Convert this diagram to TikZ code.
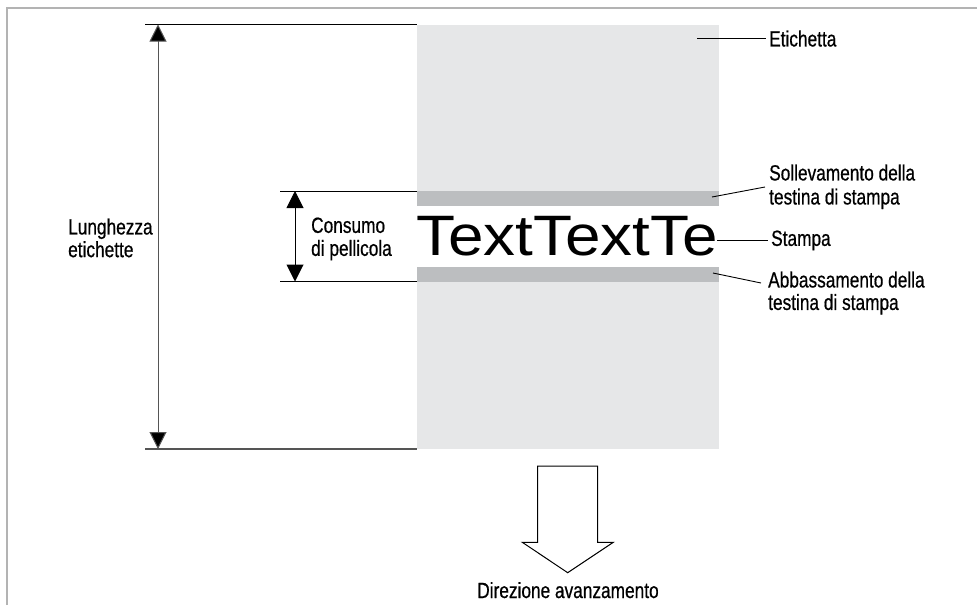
\documentclass[tikz,border=0pt]{standalone}
\usepackage{fontspec}
\setmainfont{Liberation Sans}
\newfontfamily\condf[FakeStretch=0.785,FakeBold=0.6]{Liberation Sans}
\newfontfamily\bigf[FakeStretch=1.12]{Liberation Sans}
\usetikzlibrary{arrows.meta}
\definecolor{labelgray}{HTML}{E6E7E8}
\definecolor{stripgray}{HTML}{BCBEC0}
\definecolor{framegray}{HTML}{B3B3B3}
\definecolor{dimgray}{HTML}{555555}
\tikzset{
  lbl/.style={font=\condf\fontsize{22}{24}\selectfont, inner sep=0pt, align=left, anchor=north west},
  leader/.style={draw=black, line width=0.9pt},
  extline/.style={draw=dimgray, line width=1.3pt},
  dimarrow/.style={draw=dimgray, line width=1pt, {Triangle[width=17pt,length=17pt,fill=black]}-{Triangle[width=17pt,length=17pt,fill=black]}},
}
\begin{document}
\begin{tikzpicture}[x=1pt,y=-1pt]
\useasboundingbox (0,0) rectangle (977,605);
% frame
\draw[framegray, line width=2pt] (7,605) -- (7,8) -- (977,8);
% label strip
\fill[labelgray] (416.5,24.5) rectangle (719,448.5);
\fill[white] (416.5,206) rectangle (719,266.5);
\fill[stripgray] (416.5,191) rectangle (719,206);
\fill[stripgray] (416.5,266.5) rectangle (719,281.5);
\node[font=\bigf\fontsize{57}{60}\selectfont, inner sep=0pt, anchor=base west] (print) at (416,255.5) {TextTextTe};
% extension lines
\coordinate (lt1) at (145,24.5); \coordinate (lt2) at (416.5,24.5);
\coordinate (lb1) at (145,449); \coordinate (lb2) at (416.5,449);
\draw[black, line width=1.3pt] (lt1) -- (lt2);
\draw[extline] (lb1) -- (lb2);
\coordinate (ct1) at (280,191); \coordinate (ct2) at (416.5,191);
\coordinate (cb1) at (280,281.5); \coordinate (cb2) at (416.5,281.5);
\draw[black, line width=1pt] (ct1) -- (ct2);
\draw[black, line width=1pt] (cb1) -- (cb2);
% dimension arrows
\coordinate (la) at (158,24.5); \coordinate (lb) at (158,449);
\draw[dimarrow] (la) -- (lb);
\coordinate (ca) at (295,191); \coordinate (cb) at (295,281.5);
\draw[dimarrow, draw=black] (ca) -- (cb);
% left labels
\node[lbl, font=\condf\fontsize{22}{22.7}\selectfont] (lung) at (68,218.3) {Lunghezza\\etichette};
\node[lbl, font=\condf\fontsize{22}{23}\selectfont] (cons) at (311,217.3) {Consumo\\di pellicola};
% right labels
\node[lbl] (eti) at (769,30.3) {Etichetta};
\node[lbl] (sol) at (769,164.3) {Sollevamento della\\testina di stampa};
\node[lbl] (sta) at (771,230.3) {Stampa};
\node[lbl, font=\condf\fontsize{22}{22.5}\selectfont] (abb) at (768,271.3) {Abbassamento della\\testina di stampa};
% leaders
\coordinate (etiP) at (697,38); \coordinate (etiE) at (766,38);
\draw[leader] (etiP) -- (etiE);
\coordinate (solP) at (712,197); \coordinate (solE) at (765,187);
\draw[leader] (solP) -- (solE);
\coordinate (staP) at (717,240); \coordinate (staE) at (768,240);
\draw[leader] (staP) -- (staE);
\coordinate (abbP) at (713,273); \coordinate (abbE) at (761,283);
\draw[leader] (abbP) -- (abbE);
% feed direction arrow
\draw[black, line width=1pt, fill=white, line join=miter]
  (537.7,466) -- (597.7,466) -- (597.7,542.3) -- (613.3,542.3) -- (567.7,572.7)
  -- (522.3,542.3) -- (537.7,542.3) -- cycle;
\node[font=\condf\fontsize{22}{24}\selectfont, inner sep=0pt, anchor=base] (dir) at (568,598) {Direzione avanzamento};
\end{tikzpicture}
\end{document}
